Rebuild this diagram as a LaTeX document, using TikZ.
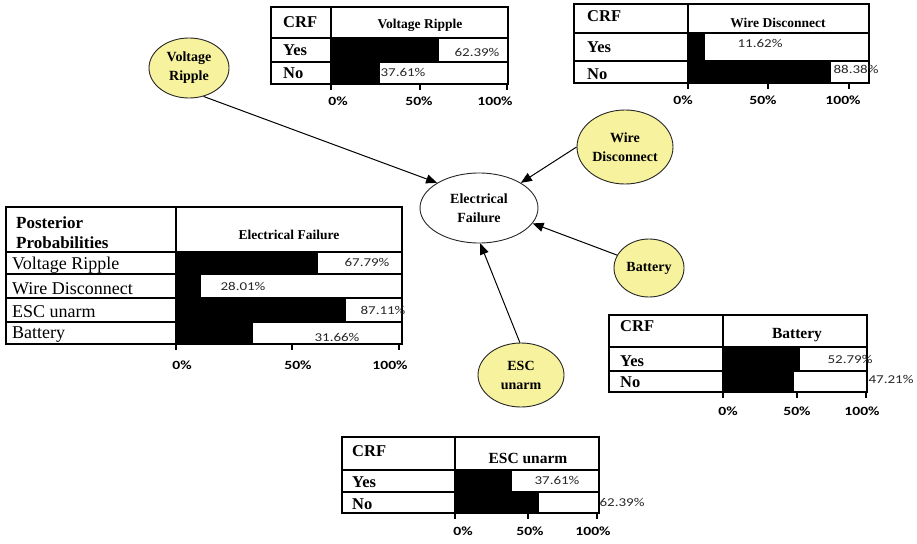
\documentclass[tikz,border=0pt]{standalone}
\usepackage{fontspec}
\setmainfont{Liberation Serif}
\newfontfamily\pctfont[FakeStretch=1.25]{Carlito}
\usetikzlibrary{shapes.geometric,arrows.meta}
\definecolor{causefill}{RGB}{247,242,158}
% three axis ticks below a bar chart: x at 0%, 50%, 100%, and the y of the table bottom
\newcommand\chartticks[4]{%
  \foreach \tx in {#1,#2,#3} \draw[tick] (\tx,#4-1) -- (\tx,#4+6);}
\begin{document}
\begin{tikzpicture}[x=1pt,y=-1pt,
  grid/.style={line width=1.1pt},
  bar/.style={fill=black},
  hdr/.style={inner sep=0pt,font=\bfseries\fontsize{13.5}{15}\selectfont},
  hdrbig/.style={inner sep=0pt,font=\bfseries\fontsize{15.5}{17}\selectfont},
  crf/.style={anchor=west,inner sep=0pt,font=\bfseries\fontsize{16.5}{18}\selectfont},
  rowlbl/.style={anchor=west,inner sep=0pt,font=\fontsize{18}{20}\selectfont},
  pct/.style={inner sep=0pt,text=black!85,font=\pctfont\fontsize{12}{13}\selectfont},
  axlbl/.style={inner sep=0pt,font=\pctfont\bfseries\fontsize{12.5}{13}\selectfont},
  tick/.style={line width=1.3pt},
  cause/.style={ellipse,draw=black!85,line width=0.9pt,fill=causefill,inner sep=0pt,
    align=center,font=\bfseries\fontsize{14}{19}\selectfont},
  effect/.style={cause,fill=white},
  link/.style={line width=1pt,-{Triangle[length=11pt,width=9pt]}}
]
\useasboundingbox (0,0) rectangle (917,543);

% ---------- Voltage Ripple table ----------
\fill[bar] (331,38) rectangle (439,62);
\fill[bar] (331,62) rectangle (380,84);
\draw[grid] (271,7) rectangle (508,84);
\draw[grid] (331,7) -- (331,84) (271,38) -- (508,38) (271,62) -- (508,62);
\node[crf] (vr-crf) at (283,22) {CRF};
\node[hdr] (vr-head) at (420,25) {Voltage Ripple};
\node[crf] (vr-yes) at (283,50) {Yes};
\node[crf] (vr-no) at (283,73) {No};
\node[pct] (vr-pyes) at (477,52) {62.39\%};
\node[pct] (vr-pno) at (403,72) {37.61\%};
\chartticks{331}{420}{507}{84}
\node[axlbl] (vr-a0) at (338,101) {0\%};
\node[axlbl] (vr-a50) at (419,101) {50\%};
\node[axlbl] (vr-a100) at (495,101) {100\%};

% ---------- Wire Disconnect table ----------
\fill[bar] (688,33) rectangle (705,61);
\fill[bar] (688,61) rectangle (831,83);
\draw[grid] (574,4) rectangle (869,83);
\draw[grid] (688,4) -- (688,83) (574,33) -- (869,33) (574,61) -- (869,61);
\node[crf] (wd-crf) at (587,16) {CRF};
\node[hdr] (wd-head) at (778,23) {Wire Disconnect};
\node[crf] (wd-yes) at (587,47) {Yes};
\node[crf] (wd-no) at (587,74) {No};
\node[pct] (wd-pyes) at (760,43) {11.62\%};
\node[pct] (wd-pno) at (856,69) {88.38\%};
\chartticks{688}{768}{849}{83}
\node[axlbl] (wd-a0) at (683,100) {0\%};
\node[axlbl] (wd-a50) at (763,100) {50\%};
\node[axlbl] (wd-a100) at (843,100) {100\%};

% ---------- Posterior probabilities table ----------
\fill[bar] (176,252) rectangle (318,274);
\fill[bar] (176,274) rectangle (201,298);
\fill[bar] (176,298) rectangle (346,322);
\fill[bar] (176,322) rectangle (253,344);
\draw[grid] (6,207) rectangle (402,344);
\draw[grid] (176,207) -- (176,344) (6,252) -- (402,252) (6,274) -- (402,274)
  (6,298) -- (402,298) (6,322) -- (402,322);
\node[crf,font=\bfseries\fontsize{17}{19}\selectfont] (pp-t1) at (16,223) {Posterior};
\node[crf,font=\bfseries\fontsize{17}{19}\selectfont] (pp-t2) at (16,243) {Probabilities};
\node[hdr] (pp-head) at (289,235) {Electrical Failure};
\node[rowlbl] (pp-vr) at (12,265) {Voltage Ripple};
\node[rowlbl] (pp-wd) at (12,289) {Wire Disconnect};
\node[rowlbl] (pp-esc) at (12,312) {ESC unarm};
\node[rowlbl] (pp-bat) at (12,335) {Battery};
\node[pct] (pp-p1) at (367,262) {67.79\%};
\node[pct] (pp-p2) at (243,286) {28.01\%};
\node[pct] (pp-p3) at (383,310) {87.11\%};
\node[pct] (pp-p4) at (337,337) {31.66\%};
\chartticks{176}{292}{399}{344}
\node[axlbl] (pp-a0) at (182,365) {0\%};
\node[axlbl] (pp-a50) at (298,365) {50\%};
\node[axlbl] (pp-a100) at (390,365) {100\%};

% ---------- Battery table ----------
\fill[bar] (723,347) rectangle (800,371);
\fill[bar] (723,371) rectangle (794,392);
\draw[grid] (609,315) rectangle (867,392);
\draw[grid] (723,315) -- (723,392) (609,347) -- (867,347) (609,371) -- (867,371);
\node[crf] (bt-crf) at (620,326) {CRF};
\node[hdrbig] (bt-head) at (797,335) {Battery};
\node[crf] (bt-yes) at (620,361) {Yes};
\node[crf] (bt-no) at (620,382) {No};
\node[pct] (bt-pyes) at (850,359) {52.79\%};
\node[pct] (bt-pno) at (891,379) {47.21\%};
\chartticks{723}{797}{866}{392}
\node[axlbl] (bt-a0) at (728,411) {0\%};
\node[axlbl] (bt-a50) at (797,411) {50\%};
\node[axlbl] (bt-a100) at (862,411) {100\%};

% ---------- ESC unarm table ----------
\fill[bar] (455,470) rectangle (512,492);
\fill[bar] (455,492) rectangle (539,513);
\draw[grid] (342,437) rectangle (599,513);
\draw[grid] (455,437) -- (455,513) (342,470) -- (599,470) (342,492) -- (599,492);
\node[crf] (es-crf) at (352,451) {CRF};
\node[hdrbig] (es-head) at (528,458) {ESC unarm};
\node[crf] (es-yes) at (352,482) {Yes};
\node[crf] (es-no) at (352,504) {No};
\node[pct] (es-pyes) at (557,480) {37.61\%};
\node[pct] (es-pno) at (622,502) {62.39\%};
\chartticks{455}{528}{597}{513}
\node[axlbl] (es-a0) at (463,531) {0\%};
\node[axlbl] (es-a50) at (530,531) {50\%};
\node[axlbl] (es-a100) at (593,531) {100\%};

% ---------- network ----------
\node[effect,minimum width=118pt,minimum height=70pt] (ef) at (479,208) {Electrical\\Failure};
\node[cause,minimum width=80pt,minimum height=60pt] (vr) at (189,68) {Voltage\\Ripple};
\node[cause,minimum width=96pt,minimum height=74pt] (wd) at (625,147) {Wire\\Disconnect};
\node[cause,minimum width=70pt,minimum height=58pt] (bat) at (649,268) {Battery};
\node[cause,minimum width=86pt,minimum height=64pt] (esc) at (521,375) {ESC\\unarm};

\draw[link] (vr.-63) -- (ef.149);
\draw[link] (wd.180) -- (ef.31);
\draw[link] (bat.158) -- (ef.-16);
\draw[link] (esc.92) -- (ef.-88);
\end{tikzpicture}
\end{document}
